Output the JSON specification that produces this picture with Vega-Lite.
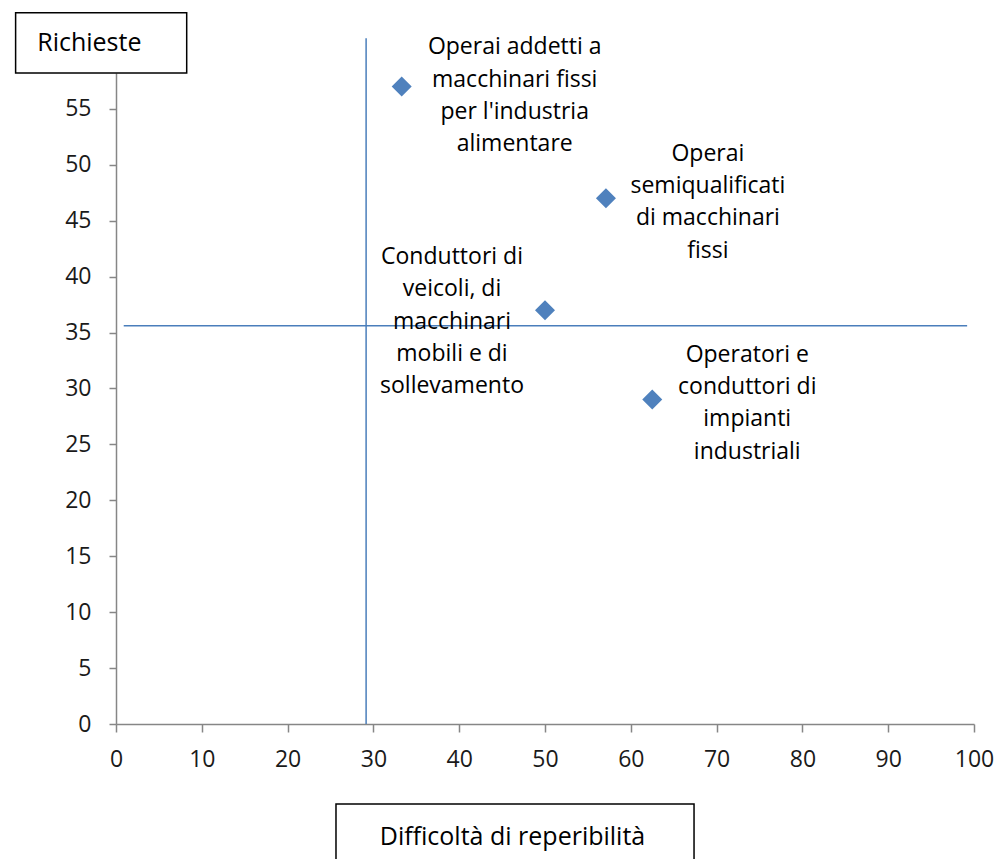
{
  "$schema": "https://vega.github.io/schema/vega-lite/v6.json",
  "width": 858,
  "height": 651,
  "autosize": "none",
  "padding": {"left": 116, "top": 73, "right": 24, "bottom": 135},
  "background": "white",
  "config": {"view": {"stroke": null}, "font": "Open Sans"},
  "datasets": {
    "punti": [
      {"professione": "Operai addetti a\nmacchinari fissi\nper l'industria\nalimentare", "difficolta": 33.3, "richieste": 57},
      {"professione": "Operai\nsemiqualificati\ndi macchinari\nfissi", "difficolta": 57.1, "richieste": 47},
      {"professione": "Conduttori di\nveicoli, di\nmacchinari\nmobili e di\nsollevamento", "difficolta": 50, "richieste": 37},
      {"professione": "Operatori e\nconduttori di\nimpianti\nindustriali", "difficolta": 62.5, "richieste": 29}
    ],
    "verticale": [{"difficolta": 29.15, "da": 0, "a": 61.3}],
    "orizzontale": [{"richieste": 35.6, "da": 0.9, "a": 99.2}]
  },
  "layer": [
    {
      "data": {"name": "punti"},
      "mark": {"type": "point", "shape": "diamond", "filled": true, "color": "#4F81BD", "size": 400, "opacity": 1},
      "encoding": {
        "x": {
          "field": "difficolta", "type": "quantitative",
          "scale": {"domain": [0, 100], "nice": false, "zero": false},
          "axis": {
            "values": [0, 10, 20, 30, 40, 50, 60, 70, 80, 90, 100],
            "title": "Difficoltà di reperibilità",
            "titleFont": "Open Sans", "titleFontSize": 25, "titleFontWeight": "normal", "titleColor": "black",
            "titleX": 396, "titleY": 120, "titleAlign": "center", "titleBaseline": "alphabetic", "titleAngle": 0,
            "labelFont": "Open Sans", "labelFontSize": 23, "labelColor": "#1a1a1a", "labelPadding": 16,
            "labelFlush": false, "labelOverlap": false, "labelBound": false,
            "tickSize": 8, "tickColor": "#868686", "tickWidth": 1.5,
            "domainColor": "#868686", "domainWidth": 1.5, "grid": false, "zindex": 0
          }
        },
        "y": {
          "field": "richieste", "type": "quantitative",
          "scale": {"domain": [0, 58.2], "nice": false, "zero": false},
          "axis": {
            "values": [0, 5, 10, 15, 20, 25, 30, 35, 40, 45, 50, 55],
            "title": "Richieste",
            "titleFont": "Open Sans", "titleFontSize": 25, "titleFontWeight": "normal", "titleColor": "black",
            "titleX": -79.3, "titleY": -22.3, "titleAlign": "left", "titleBaseline": "alphabetic", "titleAngle": 0,
            "labelFont": "Open Sans", "labelFontSize": 23, "labelColor": "#1a1a1a", "labelPadding": 18,
            "labelFlush": false, "labelOverlap": false, "labelBound": false,
            "tickSize": 7, "tickColor": "#868686", "tickWidth": 1.5,
            "domainColor": "#868686", "domainWidth": 1.5, "grid": false, "zindex": 0
          }
        }
      }
    },
    {
      "data": {"name": "verticale"},
      "mark": {"type": "rule", "color": "#4A7EBB", "strokeWidth": 1.5},
      "encoding": {
        "x": {"field": "difficolta", "type": "quantitative"},
        "y": {"field": "da", "type": "quantitative"},
        "y2": {"field": "a"}
      }
    },
    {
      "data": {"name": "orizzontale"},
      "mark": {"type": "rule", "color": "#4A7EBB", "strokeWidth": 1.5},
      "encoding": {
        "y": {"field": "richieste", "type": "quantitative"},
        "x": {"field": "da", "type": "quantitative"},
        "x2": {"field": "a"}
      }
    },
    {
      "data": {"name": "punti"},
      "transform": [{"filter": {"field": "difficolta", "equal": 33.3}}],
      "mark": {"type": "text", "align": "center", "baseline": "middle", "lineBreak": "\n", "lineHeight": 32.3, "fontSize": 23, "font": "Open Sans", "color": "black", "dx": 113, "dy": -39},
      "encoding": {
        "x": {"field": "difficolta", "type": "quantitative"},
        "y": {"field": "richieste", "type": "quantitative"},
        "text": {"field": "professione", "type": "nominal"}
      }
    },
    {
      "data": {"name": "punti"},
      "transform": [{"filter": {"field": "difficolta", "equal": 57.1}}],
      "mark": {"type": "text", "align": "center", "baseline": "middle", "lineBreak": "\n", "lineHeight": 32.3, "fontSize": 23, "font": "Open Sans", "color": "black", "dx": 102, "dy": -44.5},
      "encoding": {
        "x": {"field": "difficolta", "type": "quantitative"},
        "y": {"field": "richieste", "type": "quantitative"},
        "text": {"field": "professione", "type": "nominal"}
      }
    },
    {
      "data": {"name": "punti"},
      "transform": [{"filter": {"field": "difficolta", "equal": 50}}],
      "mark": {"type": "text", "align": "center", "baseline": "middle", "lineBreak": "\n", "lineHeight": 32.3, "fontSize": 23, "font": "Open Sans", "color": "black", "dx": -93, "dy": -53},
      "encoding": {
        "x": {"field": "difficolta", "type": "quantitative"},
        "y": {"field": "richieste", "type": "quantitative"},
        "text": {"field": "professione", "type": "nominal"}
      }
    },
    {
      "data": {"name": "punti"},
      "transform": [{"filter": {"field": "difficolta", "equal": 62.5}}],
      "mark": {"type": "text", "align": "center", "baseline": "middle", "lineBreak": "\n", "lineHeight": 32.3, "fontSize": 23, "font": "Open Sans", "color": "black", "dx": 95, "dy": -45},
      "encoding": {
        "x": {"field": "difficolta", "type": "quantitative"},
        "y": {"field": "richieste", "type": "quantitative"},
        "text": {"field": "professione", "type": "nominal"}
      }
    },
    {
      "data": {"values": [{}]},
      "mark": {"type": "rect", "fillOpacity": 0, "fill": "white", "stroke": "black", "strokeWidth": 1.5},
      "encoding": {
        "x": {"datum": -11.7, "type": "quantitative"},
        "x2": {"datum": 8.24},
        "y": {"datum": 63.59, "type": "quantitative"},
        "y2": {"datum": 58.2}
      }
    },
    {
      "data": {"values": [{}]},
      "mark": {"type": "rect", "fillOpacity": 0, "fill": "white", "stroke": "black", "strokeWidth": 1.5},
      "encoding": {
        "x": {"datum": 25.64, "type": "quantitative"},
        "x2": {"datum": 67.37},
        "y": {"datum": -7.15, "type": "quantitative"},
        "y2": {"datum": -14}
      }
    }
  ]
}
